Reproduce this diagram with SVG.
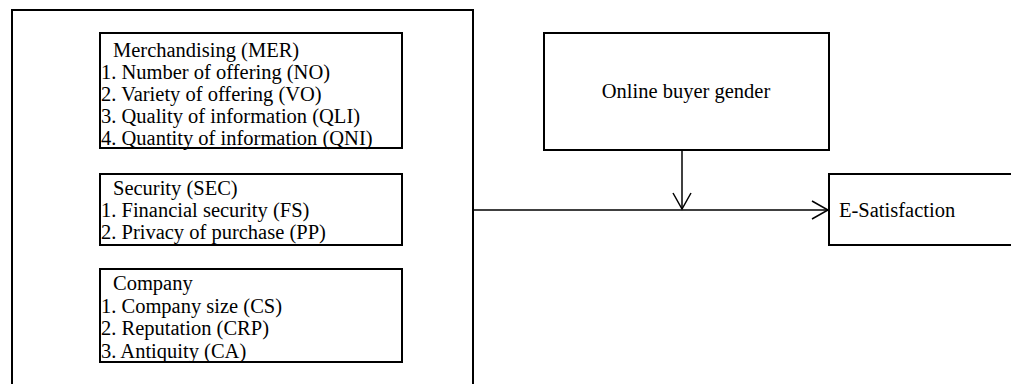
<svg xmlns="http://www.w3.org/2000/svg" width="1011" height="384" viewBox="0 0 1011 384">
<style>
  .box { fill: #ffffff; stroke: #000000; stroke-width: 2; }
  .t { font-family: "Liberation Serif", "Times New Roman", serif; font-size: 20.5px; fill: #000000; }
  .conn { stroke: #000000; stroke-width: 1.5; fill: none; }
</style>
<defs>
  <marker id="openArrow" markerWidth="20" markerHeight="22" refX="17" refY="10" orient="auto" markerUnits="userSpaceOnUse">
    <path d="M1,1 L17,10 L1,19" fill="none" stroke="#000000" stroke-width="1.5"/>
  </marker>
</defs>
<rect width="1011" height="384" fill="#ffffff"/>
<g id="outer">
  <rect class="box" x="12" y="10" width="461" height="400"/>
</g>
<g id="merchandising">
  <rect class="box" x="100" y="33" width="302" height="115"/>
  <text class="t" x="113" y="57">Merchandising (MER)</text>
  <text class="t" x="101" y="79">1. Number of offering (NO)</text>
  <text class="t" x="101" y="101">2. Variety of offering (VO)</text>
  <text class="t" x="101" y="123">3. Quality of information (QLI)</text>
  <text class="t" x="101" y="145">4. Quantity of information (QNI)</text>
</g>
<g id="security">
  <rect class="box" x="100" y="174" width="302" height="71"/>
  <text class="t" x="113" y="195">Security (SEC)</text>
  <text class="t" x="101" y="217">1. Financial security (FS)</text>
  <text class="t" x="101" y="239">2. Privacy of purchase (PP)</text>
</g>
<g id="company">
  <rect class="box" x="100" y="269" width="302" height="93"/>
  <text class="t" x="113" y="290">Company</text>
  <text class="t" x="101" y="313">1. Company size (CS)</text>
  <text class="t" x="101" y="335">2. Reputation (CRP)</text>
  <text class="t" x="101" y="358">3. Antiquity (CA)</text>
</g>
<g id="gender">
  <rect class="box" x="544" y="33" width="285" height="117"/>
  <text class="t" x="686" y="98" text-anchor="middle">Online buyer gender</text>
</g>
<g id="esatisfaction">
  <rect class="box" x="829" y="174" width="200" height="71"/>
  <text class="t" x="839" y="217">E-Satisfaction</text>
</g>
<g id="connectors">
  <line class="conn" x1="473" y1="210" x2="828" y2="210" marker-end="url(#openArrow)"/>
  <line class="conn" x1="682" y1="151" x2="682" y2="209" marker-end="url(#openArrow)"/>
</g>
</svg>
